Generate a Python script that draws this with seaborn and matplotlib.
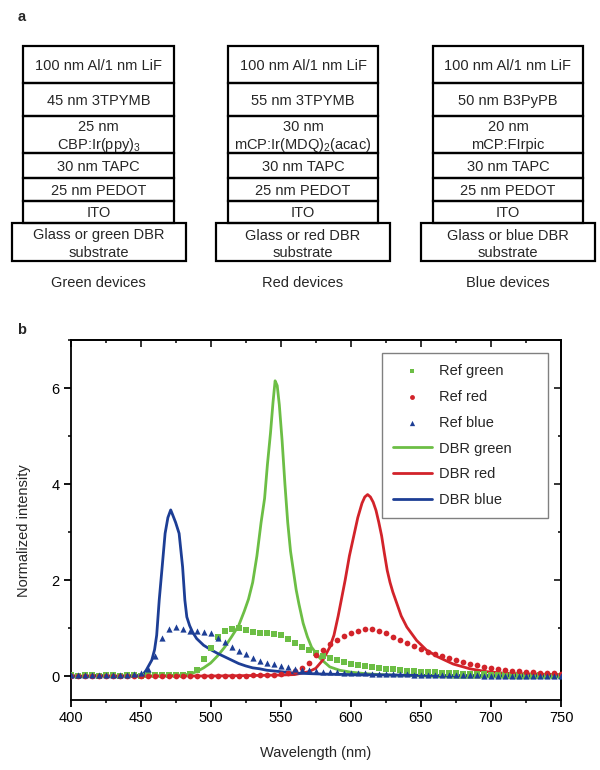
import numpy as np
import pandas as pd
import matplotlib
matplotlib.use("Agg")
import matplotlib.pyplot as plt
import seaborn as sns
from matplotlib.patches import Rectangle
from matplotlib.ticker import MultipleLocator

# ---------------- panel a: device stacks ----------------
device_titles = ["Green devices", "Red devices", "Blue devices"]
layer_cathode = ["100 nm Al/1 nm LiF", "100 nm Al/1 nm LiF", "100 nm Al/1 nm LiF"]
layer_etl = ["45 nm 3TPYMB", "55 nm 3TPYMB", "50 nm B3PyPB"]
layer_eml = ["25 nm\nCBP:Ir(ppy)$_\\mathregular{3}$",
             "30 nm\nmCP:Ir(MDQ)$_\\mathregular{2}$(acac)",
             "20 nm\nmCP:FIrpic"]
layer_htl = ["30 nm TAPC", "30 nm TAPC", "30 nm TAPC"]
layer_hil = ["25 nm PEDOT", "25 nm PEDOT", "25 nm PEDOT"]
layer_anode = ["ITO", "ITO", "ITO"]
layer_substrate = ["Glass or green DBR\nsubstrate",
                   "Glass or red DBR\nsubstrate",
                   "Glass or blue DBR\nsubstrate"]

# ---------------- panel b: spectra ----------------
ref_wl = list(range(400, 755, 5))
ref_green = [0.03, 0.01, 0.02, 0.03, 0.01, 0.02, 0.03, 0.01, 0.02, 0.02,
             0.01, 0.02, 0.02, 0.03, 0.02, 0.03, 0.03, 0.05, 0.12, 0.36,
             0.58, 0.82, 0.93, 0.97, 0.99, 0.95, 0.91, 0.90, 0.90, 0.88,
             0.85, 0.78, 0.69, 0.61, 0.54, 0.47, 0.42, 0.37, 0.33, 0.29,
             0.26, 0.23, 0.21, 0.19, 0.17, 0.15, 0.14, 0.12, 0.11, 0.10,
             0.09, 0.08, 0.08, 0.07, 0.06, 0.06, 0.05, 0.05, 0.04, 0.04,
             0.03, 0.03, 0.03, 0.02, 0.02, 0.02, 0.01, 0.02, 0.01, 0.01,
             0.01]
ref_red = [0.01, 0.01, 0.00, 0.01, 0.01, 0.00, 0.01, 0.01, 0.00, 0.01,
           0.01, 0.00, 0.01, 0.01, 0.01, 0.00, 0.01, 0.01, 0.01, 0.01,
           0.01, 0.01, 0.01, 0.01, 0.01, 0.01, 0.02, 0.02,
           0.02, 0.03, 0.04, 0.06, 0.10, 0.17, 0.28, 0.43, 0.55, 0.66,
           0.75, 0.83, 0.89, 0.94, 0.97, 0.97, 0.94, 0.89, 0.82, 0.75,
           0.69, 0.62, 0.56, 0.50, 0.46, 0.41, 0.37, 0.33, 0.30, 0.26,
           0.22, 0.19, 0.16, 0.14, 0.12, 0.11, 0.10, 0.09, 0.08, 0.07,
           0.06, 0.06, 0.05]
ref_blue = [0.03, 0.02, 0.03, 0.02, 0.03, 0.02, 0.03, 0.02, 0.03, 0.04,
            0.06, 0.14, 0.42, 0.80, 0.98, 1.03, 0.98, 0.94, 0.93, 0.92,
            0.89, 0.79, 0.70, 0.61, 0.52, 0.45, 0.38, 0.32, 0.28, 0.24,
            0.21, 0.18, 0.15, 0.13, 0.12, 0.10, 0.09, 0.08, 0.08, 0.07,
            0.07, 0.06, 0.06, 0.05, 0.05, 0.05, 0.04, 0.04, 0.04, 0.03,
            0.03, 0.03, 0.03, 0.02, 0.02, 0.02, 0.02, 0.02, 0.02, 0.01,
            0.01, 0.01, 0.01, 0.01, 0.01, 0.01, 0.01, 0.01, 0.01, 0.01,
            0.01]

dbr_green_wl = [400, 410, 420, 430, 440, 450, 460, 470, 480, 485, 490, 495,
                500, 505, 510, 515, 520, 524, 527, 530, 533, 536, 538.5, 540.5,
                542.7, 544.5, 546, 547.5, 549, 551, 553, 555, 557, 559, 561,
                563, 566, 569, 572, 578, 585, 592, 600, 610, 620, 640, 660,
                680, 700, 720, 740, 750]
dbr_green = [0.00, -0.02, 0.01, -0.02, 0.00, -0.01, 0.00, 0.01, 0.02, 0.04,
             0.09, 0.17, 0.27, 0.42, 0.60, 0.82, 1.05, 1.35, 1.60, 1.95,
             2.50, 3.20, 3.70, 4.40, 5.06, 5.70, 6.15, 6.05, 5.65, 4.90,
             4.00, 3.20, 2.60, 2.20, 1.80, 1.50, 1.10, 0.82, 0.60, 0.37,
             0.19, 0.12, 0.08, 0.05, 0.03, 0.01, -0.01, -0.03, -0.02, -0.04,
             -0.03, -0.02]

dbr_red_wl = [400, 450, 500, 530, 550, 560, 565, 570, 575, 580, 585, 588,
              591, 593, 596, 599, 602, 605, 608, 610, 612, 614, 616, 618,
              620, 622, 624, 626, 628, 630, 633, 636, 640, 647, 654, 662,
              673, 685, 697, 711, 730, 750]
dbr_red = [0.00, 0.00, 0.00, 0.01, 0.02, 0.03, 0.06, 0.09, 0.16, 0.33,
           0.60, 0.85, 1.25, 1.55, 2.00, 2.50, 2.90, 3.30, 3.60, 3.73,
           3.78, 3.73, 3.62, 3.45, 3.20, 2.92, 2.55, 2.20, 1.95, 1.75,
           1.50, 1.25, 1.02, 0.74, 0.54, 0.40, 0.25, 0.15, 0.09, 0.055,
           0.04, 0.03]

dbr_blue_wl = [400, 410, 420, 430, 440, 448, 452, 454, 458, 460, 461.5, 463.3,
               465.4, 467.5, 469.5, 471.5, 473, 475, 477.5, 480, 481.6, 483,
               485, 487, 490, 495, 500, 505, 510, 515, 520, 525, 530, 535,
               540, 550, 560, 570, 580, 600, 630, 660, 700, 750]
dbr_blue = [0.00, -0.01, 0.01, -0.01, 0.00, 0.01, 0.04, 0.12, 0.33, 0.55,
            0.85, 1.58, 2.27, 2.97, 3.30, 3.46, 3.35, 3.20, 2.97, 2.27,
            1.58, 1.23, 1.05, 0.92, 0.78, 0.64, 0.55, 0.47, 0.40, 0.33,
            0.26, 0.21, 0.17, 0.15, 0.12, 0.09, 0.06, 0.05, 0.04, 0.03,
            0.02, 0.01, 0.01, 0.00]

GREEN = "#6cbe45"
RED = "#d2232a"
BLUE = "#1d3e95"

sns.set_style("ticks")
plt.rcParams["font.family"] = ["Liberation Sans", "DejaVu Sans"]
plt.rcParams["mathtext.fontset"] = "custom"
plt.rcParams["mathtext.rm"] = "Liberation Sans"
plt.rcParams["mathtext.it"] = "Liberation Sans:italic"
FS = 10.5

fig = plt.figure(figsize=(6, 7.7), dpi=100)

# ---- panel a drawn in pixel coordinates ----
axa = fig.add_axes([0, 0, 1, 1])
axa.set_xlim(0, 600)
axa.set_ylim(770, 0)
axa.axis("off")


def put_lines(x, yc, txt, gap):
    lines = txt.split("\n")
    n = len(lines)
    for k, ln in enumerate(lines):
        yy = yc + (k - (n - 1) / 2) * gap
        axa.text(x, yy, ln, ha="center", va="baseline", fontsize=FS)


row_edges = [45.7, 83.3, 115.7, 153.3, 178.3, 201.0, 222.7]
sub_edges = [222.7, 260.7]
stack_cx = [98.7, 303.0, 508.0]
stack_w = 150.7
sub_w = 173.7
for i in range(3):
    layers = [layer_cathode[i], layer_etl[i], layer_eml[i],
              layer_htl[i], layer_hil[i], layer_anode[i]]
    cx = stack_cx[i]
    for j, txt in enumerate(layers):
        y0, y1 = row_edges[j], row_edges[j + 1]
        axa.add_patch(Rectangle((cx - stack_w / 2, y0), stack_w, y1 - y0,
                                fill=False, ec="black", lw=1.6))
        put_lines(cx, (y0 + y1) / 2 + 5.5, txt, 18.3)
    y0, y1 = sub_edges
    axa.add_patch(Rectangle((cx - sub_w / 2, y0), sub_w, y1 - y0,
                            fill=False, ec="black", lw=1.6))
    put_lines(cx, (y0 + y1) / 2 + 6.5, layer_substrate[i], 17.4)
    axa.text(cx, 282.7, device_titles[i], ha="center", va="center",
             fontsize=FS)

axa.text(21.7, 16.7, "a", ha="center", va="center", fontsize=FS,
         fontweight="bold")
axa.text(21.7, 330, "b", ha="center", va="center", fontsize=FS,
         fontweight="bold")

# ---- panel b ----
ax = fig.add_axes([70.5 / 600, 70 / 770, 490.5 / 600, 360 / 770])

for wl, val, col, lab in [(dbr_green_wl, dbr_green, GREEN, "DBR green"),
                          (dbr_red_wl, dbr_red, RED, "DBR red"),
                          (dbr_blue_wl, dbr_blue, BLUE, "DBR blue")]:
    sns.lineplot(x=wl, y=val, color=col, lw=2.0, label=lab, ax=ax,
                 estimator=None, zorder=2)

for val, col, mk, lab, sz in [(ref_green, GREEN, "s", "Ref green", 14),
                              (ref_red, RED, "o", "Ref red", 17),
                              (ref_blue, BLUE, "^", "Ref blue", 20)]:
    sns.scatterplot(x=ref_wl, y=val, color=col, marker=mk, s=sz,
                    linewidth=0, label=lab, ax=ax, zorder=3)

handles, labels = ax.get_legend_handles_labels()
order = ["Ref green", "Ref red", "Ref blue", "DBR green", "DBR red", "DBR blue"]
hmap = dict(zip(labels, handles))
leg = ax.legend([hmap[k] for k in order], order, loc="upper left",
                bbox_to_anchor=(0.6345, 0.5, 0.339, 0.4647), mode="expand",
                borderaxespad=0, frameon=True, fancybox=False,
                edgecolor="#808080", framealpha=1, fontsize=FS,
                labelspacing=0.82, handlelength=2.7, handletextpad=0.5,
                borderpad=0.75, markerscale=0.85)
leg.get_frame().set_linewidth(1.0)

ax.set_xlim(400, 750)
ax.set_ylim(-0.5, 7)
ax.xaxis.set_major_locator(MultipleLocator(50))
ax.xaxis.set_minor_locator(MultipleLocator(25))
ax.yaxis.set_major_locator(MultipleLocator(2))
ax.yaxis.set_minor_locator(MultipleLocator(1))
ax.tick_params(which="major", direction="out", length=4.8, width=1.3,
               labelsize=FS, pad=3, colors="black")
ax.tick_params(which="minor", direction="out", length=2.4, width=1.3)
for s in ax.spines.values():
    s.set_linewidth(1.3)
    s.set_color("black")

secx = ax.secondary_xaxis("top")
secx.xaxis.set_major_locator(MultipleLocator(50))
secx.xaxis.set_minor_locator(MultipleLocator(25))
secx.tick_params(which="major", direction="in", length=4.8, width=1.3,
                 labeltop=False)
secx.tick_params(which="minor", direction="in", length=2.4, width=1.3)
secx.spines["top"].set_linewidth(1.3)

secy = ax.secondary_yaxis("right")
secy.yaxis.set_major_locator(MultipleLocator(2))
secy.yaxis.set_minor_locator(MultipleLocator(1))
secy.tick_params(which="major", direction="in", length=4.8, width=1.3,
                 labelright=False)
secy.tick_params(which="minor", direction="in", length=2.4, width=1.3)
secy.spines["right"].set_linewidth(1.3)

ax.set_xlabel("Wavelength (nm)", fontsize=FS, va="center")
ax.set_ylabel("Normalized intensity", fontsize=FS, va="center")
ax.xaxis.set_label_coords(0.5, -0.147)
ax.yaxis.set_label_coords(-0.095, 0.47)

fig.savefig("out.png", dpi=100)
